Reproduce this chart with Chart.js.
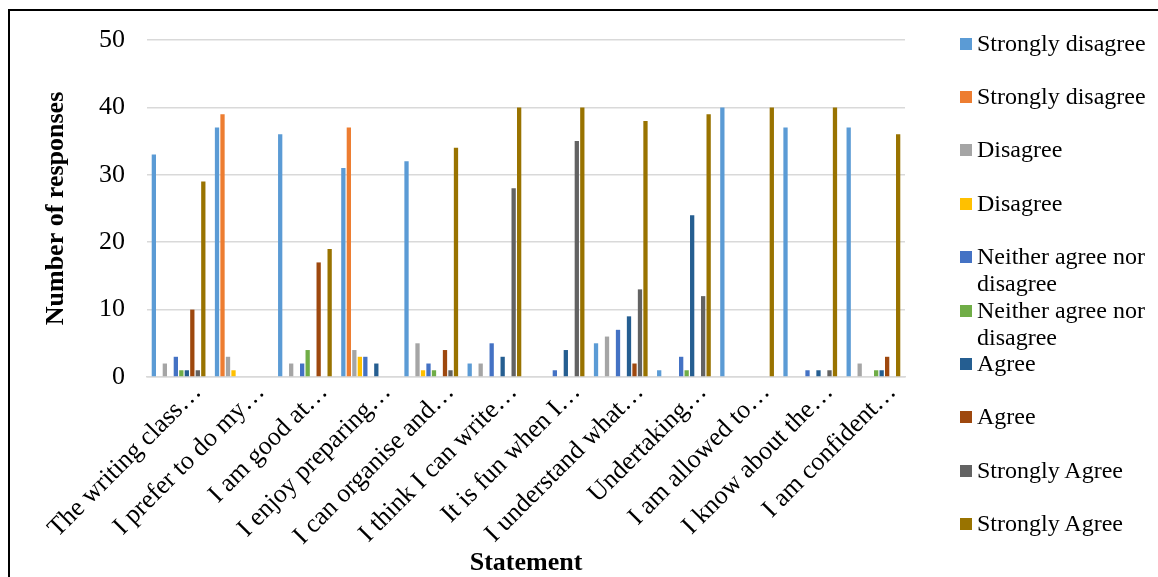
<!DOCTYPE html>
<html>
<head>
<meta charset="utf-8">
<script src="https://cdn.jsdelivr.net/npm/chart.js@4"></script>
<style>
  html, body { margin: 0; padding: 0; background: #fff; }
  #wrap { position: relative; width: 1158px; height: 577px; overflow: hidden; }
  #frame { position: absolute; left: 8px; top: 9px; width: 1200px; height: 700px;
           border-left: 2px solid #000; border-top: 2px solid #000; }
  #chart { position: absolute; left: 0; top: 0; }
  #legend { position: absolute; left: 0; top: 0; font-family: "Liberation Serif", "Times New Roman", serif;
            font-size: 24px; color: #000; }
  .item { position: absolute; left: 960px; width: 198px; line-height: 27px; }
  .box { position: absolute; left: 0; top: 8px; width: 12px; height: 12px; }
  .txt { position: absolute; left: 17px; width: 178px; }
</style>
</head>
<body>
<div id="wrap">
  <div id="frame"></div>
  <canvas id="chart" width="1158" height="577"></canvas>
  <div id="legend"></div>
</div>
<script>
// Kategoriler (ifadeler)
const statements = [
  'The writing class…', 'I prefer to do my…', 'I am good at…', 'I enjoy preparing…',
  'I can organise and…', 'I think I can write…', 'It is fun when I…', 'I understand what…',
  'Undertaking…', 'I am allowed to…', 'I know about the…', 'I am confident…'
];

const seriesNames = [
  'Strongly disagree', 'Strongly disagree', 'Disagree', 'Disagree',
  'Neither agree nor disagree', 'Neither agree nor disagree', 'Agree', 'Agree',
  'Strongly Agree', 'Strongly Agree'
];

const seriesColors = [
  '#5B9BD5', '#ED7D31', '#A5A5A5', '#FFC000', '#4472C4',
  '#70AD47', '#255E91', '#9E480E', '#636363', '#997300'
];

// Yanıt sayıları (her seri için)
const strongDis1 = [33, 37, 36, 31, 32, 2, 0, 5, 1, 40, 37, 37];
const strongDis2 = [0, 39, 0, 37, 0, 0, 0, 0, 0, 0, 0, 0];
const disagree1  = [2, 3, 2, 4, 5, 2, 0, 6, 0, 0, 0, 2];
const disagree2  = [0, 1, 0, 3, 1, 0, 0, 0, 0, 0, 0, 0];
const neither1   = [3, 0, 2, 3, 2, 5, 1, 7, 3, 0, 1, 0];
const neither2   = [1, 0, 4, 0, 1, 0, 0, 0, 1, 0, 0, 1];
const agree1     = [1, 0, 0, 2, 0, 3, 4, 9, 24, 0, 1, 1];
const agree2     = [10, 0, 17, 0, 4, 0, 0, 2, 0, 0, 0, 3];
const strongAg1  = [1, 0, 0, 0, 1, 28, 35, 13, 12, 0, 1, 0];
const strongAg2  = [29, 0, 19, 0, 34, 40, 40, 38, 39, 40, 40, 36];

const yTicks = [0, 10, 20, 30, 40, 50];

const seriesValues = [strongDis1, strongDis2, disagree1, disagree2, neither1,
                      neither2, agree1, agree2, strongAg1, strongAg2];

const serif = '"Liberation Serif", "Times New Roman", serif';

const datasets = seriesValues.map((vals, i) => ({
  label: seriesNames[i],
  data: vals,
  backgroundColor: seriesColors[i],
  borderWidth: 0,
  categoryPercentage: 0.87,
  barPercentage: 0.78
}));

const ctx = document.getElementById('chart').getContext('2d');
new Chart(ctx, {
  type: 'bar',
  data: { labels: statements, datasets: datasets },
  options: {
    responsive: false,
    animation: false,
    layout: { padding: { left: 41, right: 253, top: 40, bottom: 0 } },
    plugins: { legend: { display: false }, tooltip: { enabled: false } },
    scales: {
      x: {
        grid: { display: false },
        border: { color: '#D9D9D9', width: 1.5 },
        ticks: {
          color: '#000', font: { family: serif, size: 26 },
          maxRotation: 45, minRotation: 45, autoSkip: false, padding: -8, labelOffset: 19
        },
        title: {
          display: true, text: 'Statement', color: '#000',
          font: { family: serif, size: 26, weight: 'bold' }, padding: { top: 0, bottom: -2 }
        },
        afterFit: (scale) => { scale.height = 200; }
      },
      y: {
        min: 0, max: 50,
        afterBuildTicks: (scale) => { scale.ticks = yTicks.map(v => ({ value: v })); },
        grid: { color: '#D9D9D9', lineWidth: 1.5, drawTicks: false },
        border: { display: false },
        ticks: { color: '#000', font: { family: serif, size: 26 }, padding: 22 },
        title: {
          display: true, text: 'Number of responses', color: '#000',
          font: { family: serif, size: 26, weight: 'bold' }, padding: { top: 0, bottom: 0 }
        },
        afterFit: (scale) => { scale.width = 106; }
      }
    }
  }
});

// HTML lejant
const legendEl = document.getElementById('legend');
seriesNames.forEach((name, i) => {
  const item = document.createElement('div');
  item.className = 'item';
  item.style.top = (43 + 53.4 * i - 13.5) + 'px';
  item.innerHTML = '<span class="box" style="background:' + seriesColors[i] + '"></span>' +
                   '<span class="txt">' + name + '</span>';
  legendEl.appendChild(item);
});
</script>
</body>
</html>
